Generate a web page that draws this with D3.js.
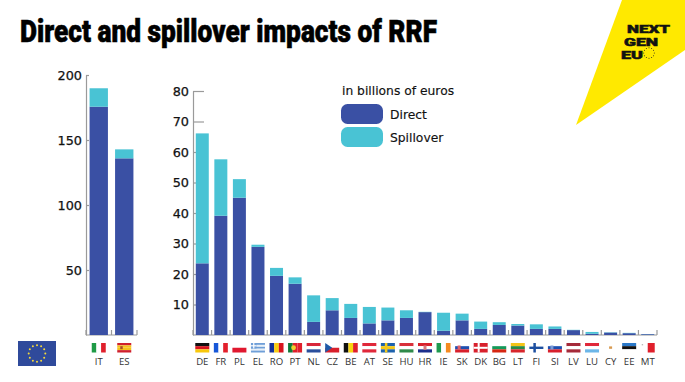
<!DOCTYPE html>
<html>
<head>
<meta charset="utf-8">
<script src="https://cdn.jsdelivr.net/npm/d3@7"></script>
<style>
  html, body { margin: 0; padding: 0; background: #fff; }
  svg { display: block; }
  text { font-family: "DejaVu Sans", sans-serif; }
  .axis text { font-size: 12.8px; fill: #111; stroke: #111; stroke-width: 0.25; }
  .axis path, .axis line { stroke: #9a9a9a; stroke-width: 1.2; }
  .code { font-family: "Open Sans", sans-serif; font-size: 9.6px; fill: #333; text-anchor: middle; }
  .logo { font-family: Roboto, sans-serif; font-weight: 900; font-size: 11.4px; fill: #111; stroke: #111; stroke-width: 0.5; }
  .legend { font-size: 12.3px; fill: #111; stroke: #111; stroke-width: 0.15; }
</style>
</head>
<body>
<div id="app"></div>
<script>
// values, billions of euros
const bigCountries = ["IT", "ES"];
const bigDirect = [175.6, 135.9];
const bigSpillover = [14.2, 6.9];

const countries = ["DE", "FR", "PL", "EL", "RO", "PT", "NL", "CZ", "BE", "AT", "SE", "HU", "HR", "IE", "SK", "DK", "BG", "LT", "FI", "SI", "LV", "LU", "CY", "EE", "MT"];
const direct = [23.5, 39.1, 45, 28.9, 19.4, 16.8, 4.3, 8.1, 5.6, 3.8, 4.8, 5.6, 7.5, 1.4, 4.8, 2, 3.3, 3.1, 2, 2, 1.6, 0.4, 0.8, 0.6, 0.25];
const spillover = [42.6, 18.5, 6.1, 0.7, 2.6, 2.1, 8.7, 4, 4.6, 5.4, 4.2, 2.5, 0.1, 5.9, 2.2, 2.4, 0.9, 0.5, 1.5, 0.8, 0.1, 0.6, 0.1, 0.1, 0.05];

const bigTicks = [50, 100, 150, 200];
const ticks = [10, 20, 30, 40, 50, 60, 70, 80];
const legendLabels = ["Direct", "Spillover"];
const titleText = "Direct and spillover impacts of RRF";

// stripes of each flag, first letter is the direction
const flags = {
  IT: ["v", "#1f9a46", "#fff", "#e0202c"],
  ES: ["h", "#d0202c", "#f6c21c", "#f6c21c", "#d0202c"],
  DE: ["h", "#111", "#d8151f", "#f8c80c"],
  FR: ["v", "#1757d8", "#fff", "#e3202c"],
  PL: ["h", "#fff", "#e0182f"],
  EL: ["h", "#6f9fd8", "#e8f0f8", "#6f9fd8", "#e8f0f8", "#6f9fd8"],
  RO: ["v", "#13309a", "#f8cc10", "#d8151f"],
  PT: ["v", "#0f7a38", "#e0202c", "#e0202c"],
  NL: ["h", "#d8263a", "#fff", "#2a4f9c"],
  CZ: ["h", "#fff", "#d8202c"],
  BE: ["v", "#111", "#f8d410", "#e0202c"],
  AT: ["h", "#e0283a", "#fff", "#e0283a"],
  SE: ["h", "#1d62ad", "#f4c818", "#1d62ad"],
  HU: ["h", "#d8303a", "#fff", "#2f8a4a"],
  HR: ["h", "#d8202c", "#fff", "#1c2f8c"],
  IE: ["v", "#1f9a50", "#fff", "#f58a20"],
  SK: ["h", "#fff", "#2050b0", "#d8202c"],
  DK: ["h", "#d8202c", "#d8202c"],
  BG: ["h", "#fff", "#159a5a", "#d62612"],
  LT: ["h", "#f4c418", "#2a8a45", "#d8262c"],
  FI: ["h", "#fff", "#fff"],
  SI: ["h", "#fff", "#1e50b0", "#d8202c"],
  LV: ["h", "#a52a3a", "#fff", "#a52a3a"],
  LU: ["h", "#e0283a", "#fff", "#6cb6e8"],
  CY: ["h", "#fff"],
  EE: ["h", "#2a78c8", "#111", "#fff"],
  MT: ["v", "#fff", "#e0202c"]
};

const blue = "#3a50a4";
const teal = "#49c3d4";

const svg = d3.select("#app").append("svg").attr("width", 685).attr("height", 382);

// yellow corner with the logo
svg.append("polygon").attr("points", "622,0 685,0 685,50 576,125").attr("fill", "#ffe900");
[["NEXT", 627, 32.5, 43], ["GEN", 624, 45.5, 34], ["EU", 621, 58.5, 22]].forEach(d => {
  svg.append("text").attr("class", "logo").attr("x", d[1]).attr("y", d[2])
    .attr("textLength", d[3]).attr("lengthAdjust", "spacingAndGlyphs").text(d[0]);
});
svg.append("g").selectAll("circle").data(d3.range(12)).join("circle")
  .attr("cx", d => 649 + 5.3 * Math.cos(d * Math.PI / 6))
  .attr("cy", d => 53 + 5.3 * Math.sin(d * Math.PI / 6))
  .attr("r", 0.5).attr("fill", "#222");

// title
svg.append("text").attr("x", 20).attr("y", 42)
  .attr("textLength", 417).attr("lengthAdjust", "spacingAndGlyphs")
  .attr("stroke", "#000").attr("stroke-width", 0.6)
  .style("font-family", "Roboto").style("font-weight", 900).style("font-size", "31px")
  .text(titleText);

// legend
svg.append("text").attr("class", "legend").attr("x", 342).attr("y", 95).text("in billions of euros");
legendLabels.forEach((d, i) => {
  const y0 = 104 + i * 23;
  svg.append("rect").attr("x", 341).attr("y", y0).attr("width", 42).attr("height", 20).attr("rx", 6.5)
    .attr("fill", i == 0 ? blue : teal);
  svg.append("text").attr("class", "legend").attr("x", 390).attr("y", y0 + 15).text(d);
});

// EU flag
svg.append("rect").attr("x", 18).attr("y", 341).attr("width", 38).attr("height", 25).attr("fill", "#2f4a9b");
svg.append("g").selectAll("circle").data(d3.range(12)).join("circle")
  .attr("cx", d => 37 + 8.3 * Math.cos(d * Math.PI / 6))
  .attr("cy", d => 353.5 + 8.3 * Math.sin(d * Math.PI / 6))
  .attr("r", 1).attr("fill", "#f5d93a");

const drawFlag = (code, cx) => {
  const w = 14, h = 9.5;
  const g = svg.append("g").attr("transform", `translate(${cx - w / 2},343)`);
  const spec = flags[code];
  const dir = spec[0];
  const stripes = spec.slice(1);
  const s = d3.scaleBand().domain(d3.range(stripes.length)).range([0, dir == "h" ? h : w]);
  g.selectAll("rect").data(stripes).join("rect")
    .attr("x", (d, i) => dir == "h" ? 0 : s(i))
    .attr("y", (d, i) => dir == "h" ? s(i) : 0)
    .attr("width", dir == "h" ? w : s.bandwidth())
    .attr("height", dir == "h" ? s.bandwidth() : h)
    .attr("fill", d => d);
  const mark = (x, y, wd, ht, c) => g.append("rect").attr("x", x).attr("y", y).attr("width", wd).attr("height", ht).attr("fill", c);
  // crosses, cantons and small emblems
  if (code == "SE") { mark(4, 0, 2.5, h, "#f4c818"); }
  if (code == "DK") { mark(4, 0, 2, h, "#fff"); mark(0, 3.8, w, 2, "#fff"); }
  if (code == "FI") { mark(4, 0, 2.5, h, "#1d4fa0"); mark(0, 3.6, w, 2.4, "#1d4fa0"); }
  if (code == "EL") { mark(0, 0, 5.5, 5.5, "#6f9fd8"); mark(2.2, 0, 1.2, 5.5, "#fff"); mark(0, 2.2, 5.5, 1.2, "#fff"); }
  if (code == "CZ") { g.append("polygon").attr("points", `0,0 7,${h / 2} 0,${h}`).attr("fill", "#1f5aa8"); }
  if (code == "PT") { g.append("circle").attr("cx", 5.5).attr("cy", h / 2).attr("r", 2.4).attr("fill", "#f0d030"); }
  if (code == "ES") { mark(3, 3.2, 2.5, 3, "#a8502a"); }
  if (code == "HR") { mark(5.5, 2.4, 3, 4.4, "#d87a80"); }
  if (code == "SK" || code == "SI") { mark(2.5, 2.5, 3, 4, code == "SK" ? "#e0606a" : "#7a9ad8"); }
  if (code == "CY") { mark(5.5, 3.4, 3, 2.4, "#d89a50"); }
  if (code == "MT") { mark(1, 1, 1.4, 1.4, "#bbb"); }
};

const drawChart = (names, directVals, spillVals, x0, x1, yMax, yTop, tickVals, tickLen, pad) => {
  const rows = names.map((d, i) => ({ name: d, direct: directVals[i], spillover: spillVals[i] }));
  const x = d3.scaleBand().domain(names).range([x0, x1]).paddingInner(pad).paddingOuter(pad / 2);
  const y = d3.scaleLinear().domain([0, yMax]).range([335, yTop]);

  svg.append("g").attr("class", "axis").attr("transform", `translate(${x0},0)`)
    .call(d3.axisLeft(y).tickValues(tickVals).tickSize(-tickLen).tickSizeOuter(0).tickPadding(4));

  // baseline with small ticks between the countries
  const base = svg.append("g").attr("class", "axis");
  base.append("line").attr("x1", x0).attr("x2", x1).attr("y1", y(0)).attr("y2", y(0));
  base.selectAll(".sep").data(d3.range(names.length + 1)).join("line").attr("class", "sep")
    .attr("x1", d => x0 + d * x.step()).attr("x2", d => x0 + d * x.step())
    .attr("y1", y(0)).attr("y2", y(0) - 5);

  const stacked = d3.stack().keys(["direct", "spillover"])(rows);
  svg.append("g").selectAll("g").data(stacked).join("g")
    .attr("fill", d => d.key == "direct" ? blue : teal)
    .selectAll("rect").data(d => d).join("rect")
    .attr("x", d => x(d.data.name))
    .attr("y", d => y(d[1]))
    .attr("width", x.bandwidth())
    .attr("height", d => y(d[0]) - y(d[1]));

  names.forEach(n => {
    const cx = x(n) + x.bandwidth() / 2;
    drawFlag(n, cx);
    svg.append("text").attr("class", "code").attr("x", cx).attr("y", 365).text(n);
  });
};

drawChart(bigCountries, bigDirect, bigSpillover, 86, 137, 200, 75, bigTicks, 3, 0.28);
drawChart(countries, direct, spillover, 193, 657, 80, 91, ticks, 11, 0.3);
</script>
</body>
</html>
